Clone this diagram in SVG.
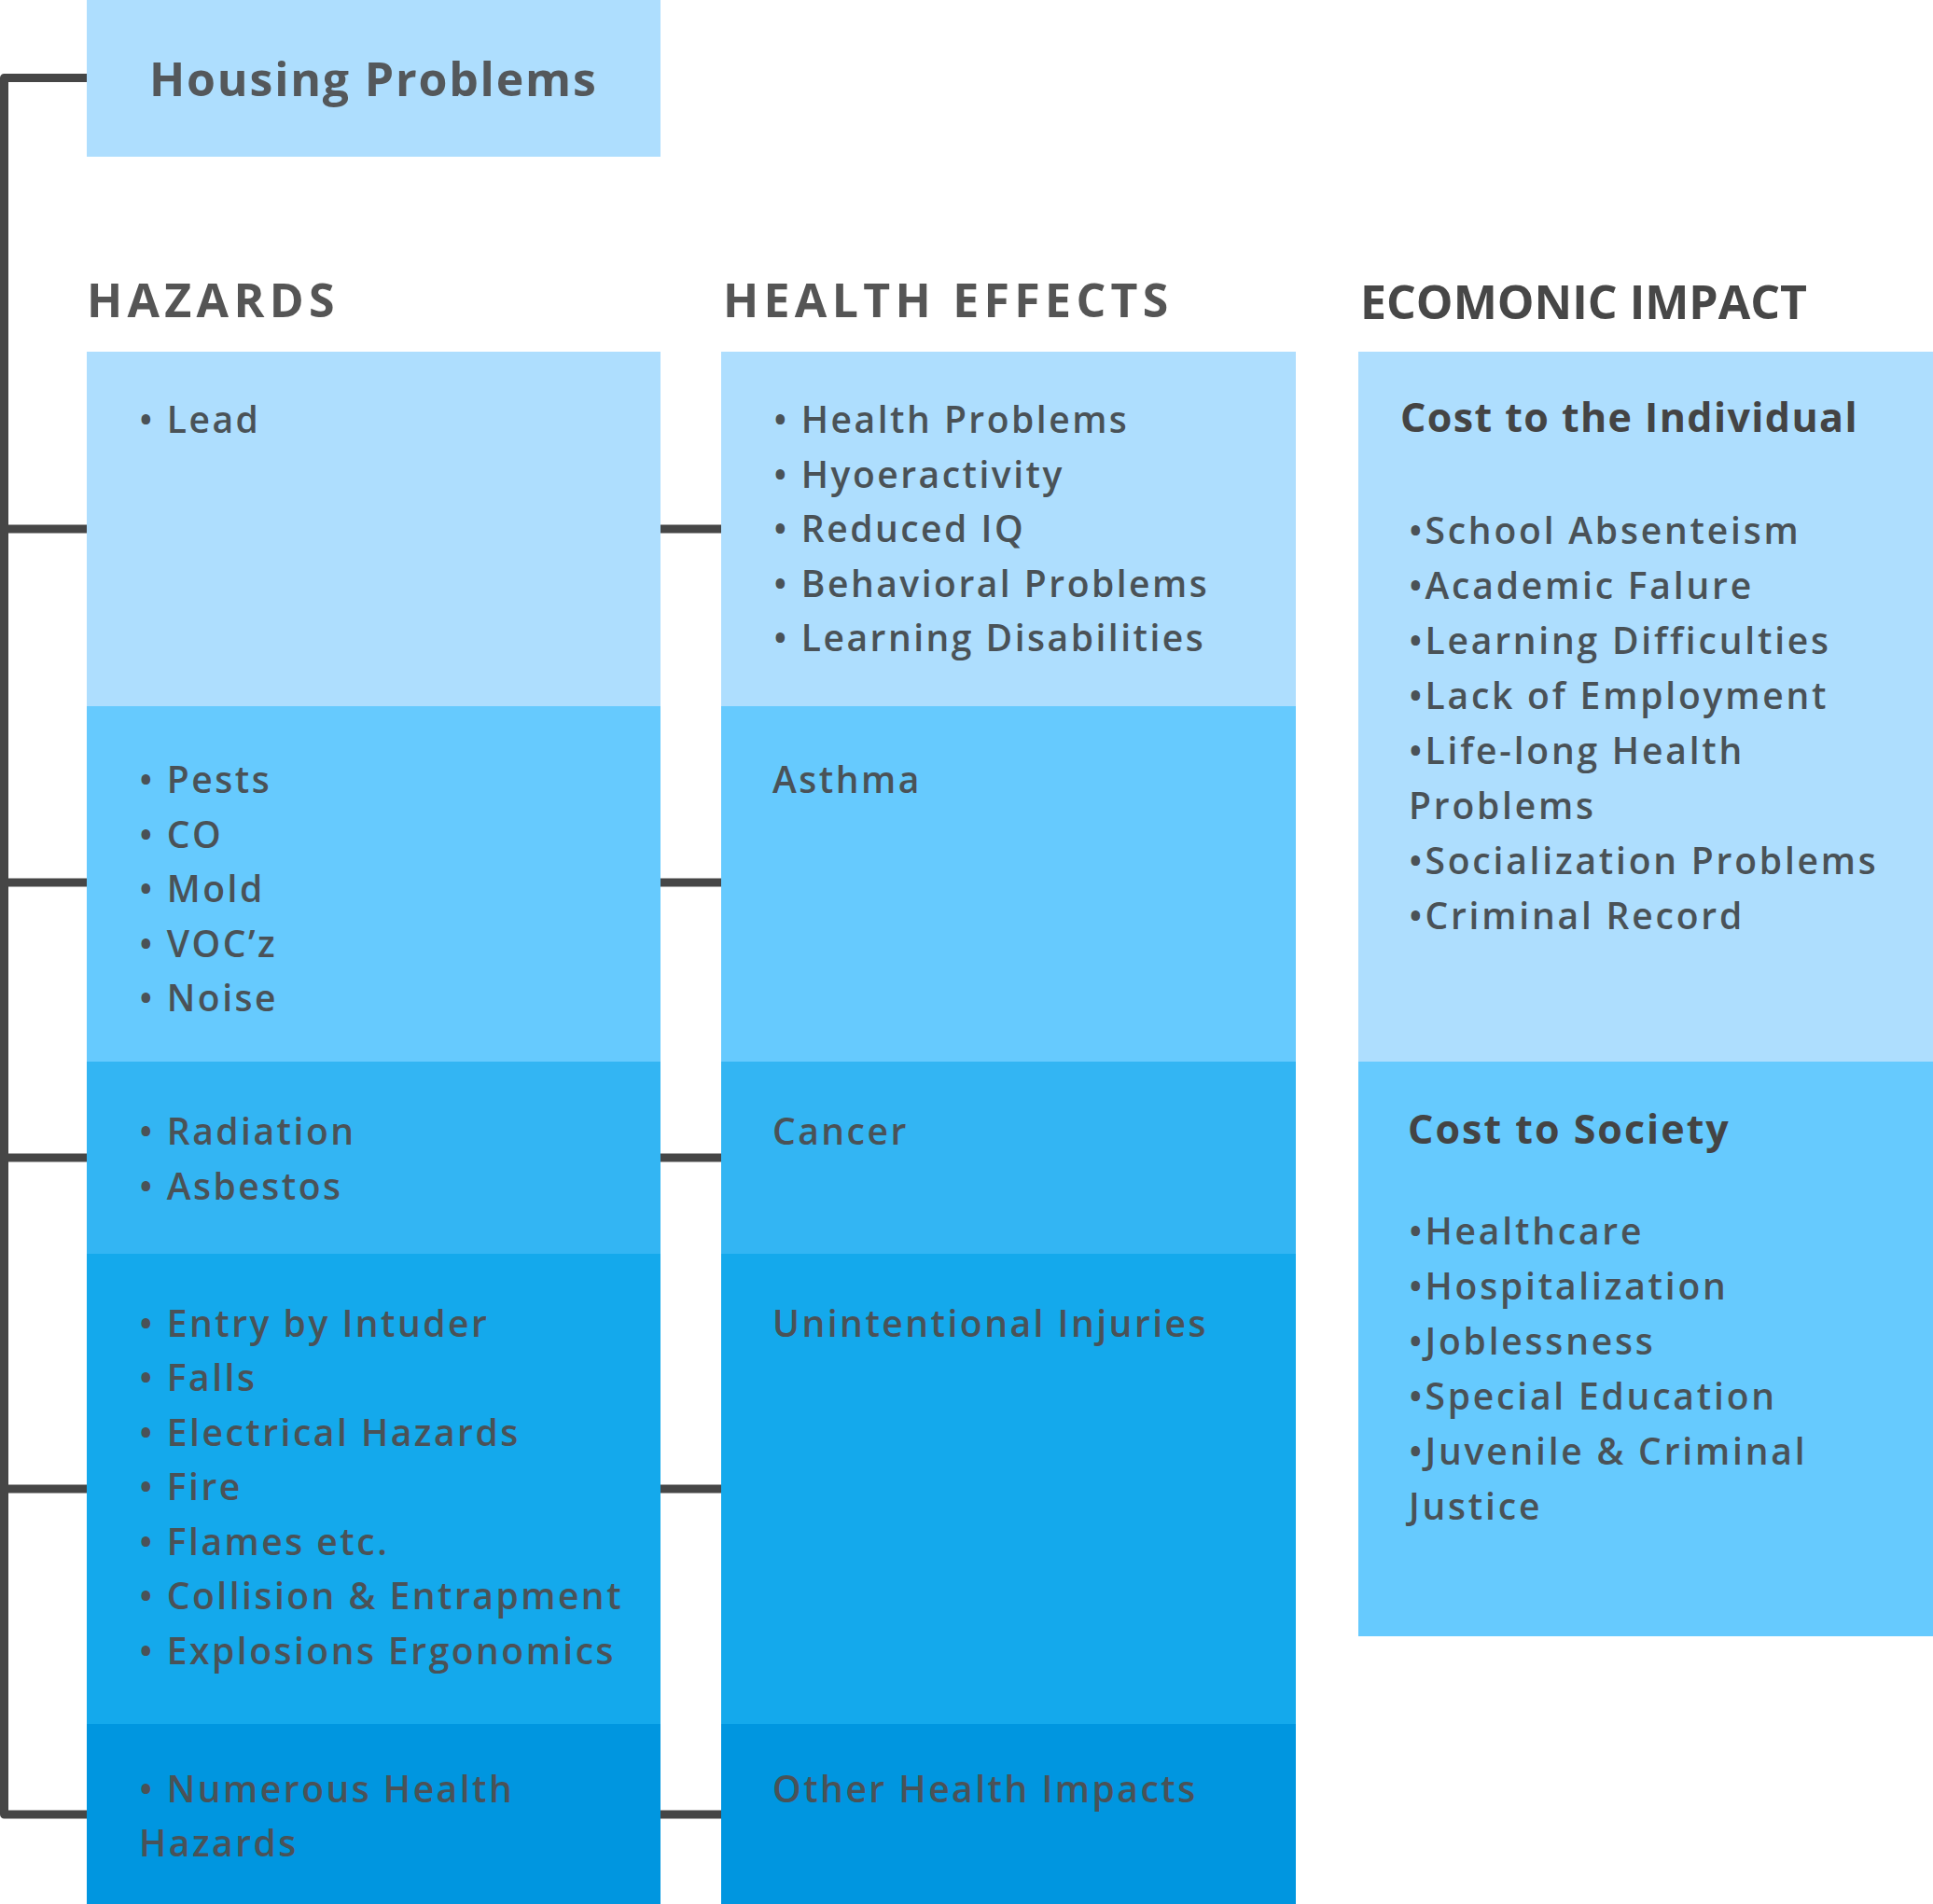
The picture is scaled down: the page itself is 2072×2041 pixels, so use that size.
<svg xmlns="http://www.w3.org/2000/svg" width="2072" height="2041" viewBox="0 0 2072 2041">
<style>
  .c1{fill:#AEDEFE}.c2{fill:#66CAFE}.c3{fill:#33B5F3}.c4{fill:#14A9EC}.c5{fill:#0096E0}
  text{font-family:"Open Sans","Noto Sans",sans-serif}
  .title{font-size:50px;font-weight:700;fill:#555555;letter-spacing:5.3px}
  .econ{font-size:50px;font-weight:700;fill:#474747;letter-spacing:0px}
  .head{font-size:50px;font-weight:700;fill:#54585b;letter-spacing:1.8px}
  .body{font-size:39px;font-weight:600;fill:#4A5257;letter-spacing:2.5px}
  .eb{font-size:39px;font-weight:600;fill:#4A5257;letter-spacing:2.8px}
  .sub{font-size:43px;font-weight:700;fill:#444444;letter-spacing:1.4px}
  .sub2{font-size:43px;font-weight:700;fill:#444444;letter-spacing:2px}
  .conn{fill:none;stroke:#464646;stroke-width:9;stroke-linejoin:round}
</style>
<rect width="2072" height="2041" fill="#ffffff"/>
<g id="connectors">
  <path class="conn" d="M93 83.5 H4.5 V1945 H93"/>
  <path class="conn" d="M4.5 567 H93 M4.5 946 H93 M4.5 1241 H93 M4.5 1596 H93"/>
  <path class="conn" d="M708 567 H773 M708 946 H773 M708 1241 H773 M708 1596 H773 M708 1945 H773"/>
</g>
<g id="housing-problems">
  <rect class="c1" x="93" y="0" width="615" height="168"/>
  <text class="head" x="160" y="103">Housing Problems</text>
</g>
<g id="column-titles">
  <text class="title" x="93" y="340">HAZARDS</text>
  <text class="title" x="775" y="340">HEALTH EFFECTS</text>
  <text class="econ" x="1458" y="342">ECOMONIC IMPACT</text>
</g>
<g id="hazard-lead">
  <rect class="c1" x="93" y="377" width="615" height="380"/>
  <text class="body" x="149" y="464">• Lead</text>
</g>
<g id="hazard-pests">
  <rect class="c2" x="93" y="757" width="615" height="381"/>
  <text class="body" x="149" y="850">• Pests</text>
  <text class="body" x="149" y="908.5">• CO</text>
  <text class="body" x="149" y="967">• Mold</text>
  <text class="body" x="149" y="1025.5">• VOC’z</text>
  <text class="body" x="149" y="1084">• Noise</text>
</g>
<g id="hazard-radiation">
  <rect class="c3" x="93" y="1138" width="615" height="206"/>
  <text class="body" x="149" y="1227">• Radiation</text>
  <text class="body" x="149" y="1285.5">• Asbestos</text>
</g>
<g id="hazard-injury">
  <rect class="c4" x="93" y="1344" width="615" height="504"/>
  <text class="body" x="149" y="1432.5">• Entry by Intuder</text>
  <text class="body" x="149" y="1491">• Falls</text>
  <text class="body" x="149" y="1549.5">• Electrical Hazards</text>
  <text class="body" x="149" y="1608">• Fire</text>
  <text class="body" x="149" y="1666.5">• Flames etc.</text>
  <text class="body" x="149" y="1725">• Collision &amp; Entrapment</text>
  <text class="body" x="149" y="1783.5">• Explosions Ergonomics</text>
</g>
<g id="hazard-numerous">
  <rect class="c5" x="93" y="1848" width="615" height="193"/>
  <text class="body" x="149" y="1931.5">• Numerous Health</text>
  <text class="body" x="149" y="1990">Hazards</text>
</g>
<g id="effect-lead">
  <rect class="c1" x="773" y="377" width="616" height="380"/>
  <text class="body" x="829" y="464">• Health Problems</text>
  <text class="body" x="829" y="522.5">• Hyoeractivity</text>
  <text class="body" x="829" y="581">• Reduced IQ</text>
  <text class="body" x="829" y="639.5">• Behavioral Problems</text>
  <text class="body" x="829" y="698">• Learning Disabilities</text>
</g>
<g id="effect-asthma">
  <rect class="c2" x="773" y="757" width="616" height="381"/>
  <text class="body" x="828" y="850">Asthma</text>
</g>
<g id="effect-cancer">
  <rect class="c3" x="773" y="1138" width="616" height="206"/>
  <text class="body" x="828" y="1227">Cancer</text>
</g>
<g id="effect-injuries">
  <rect class="c4" x="773" y="1344" width="616" height="504"/>
  <text class="body" x="828" y="1432.5">Unintentional Injuries</text>
</g>
<g id="effect-other">
  <rect class="c5" x="773" y="1848" width="616" height="193"/>
  <text class="body" x="828" y="1931.5">Other Health Impacts</text>
</g>
<g id="cost-individual">
  <rect class="c1" x="1456" y="377" width="616" height="761"/>
  <text class="sub" x="1501" y="463">Cost to the Individual</text>
  <text class="eb" x="1510" y="583">•School Absenteism</text>
  <text class="eb" x="1510" y="642">•Academic Falure</text>
  <text class="eb" x="1510" y="701">•Learning Difficulties</text>
  <text class="eb" x="1510" y="760">•Lack of Employment</text>
  <text class="eb" x="1510" y="819">•Life-long Health</text>
  <text class="eb" x="1510" y="878">Problems</text>
  <text class="eb" x="1510" y="937">•Socialization Problems</text>
  <text class="eb" x="1510" y="996">•Criminal Record</text>
</g>
<g id="cost-society">
  <rect class="c2" x="1456" y="1138" width="616" height="616"/>
  <text class="sub2" x="1509" y="1226">Cost to Society</text>
  <text class="eb" x="1510" y="1334">•Healthcare</text>
  <text class="eb" x="1510" y="1393">•Hospitalization</text>
  <text class="eb" x="1510" y="1452">•Joblessness</text>
  <text class="eb" x="1510" y="1511">•Special Education</text>
  <text class="eb" x="1510" y="1570">•Juvenile &amp; Criminal</text>
  <text class="eb" x="1510" y="1629">Justice</text>
</g>
</svg>
